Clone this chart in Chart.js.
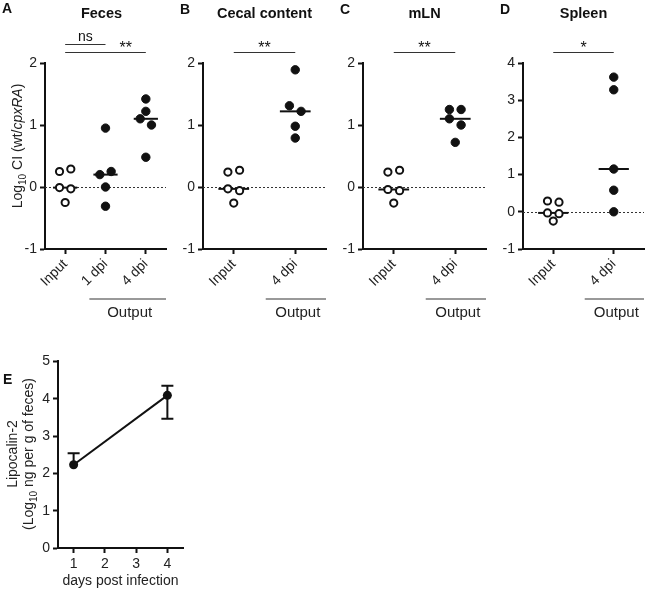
<!DOCTYPE html>
<html>
<head>
<meta charset="utf-8">
<script src="https://cdn.jsdelivr.net/npm/chart.js@4.4.0/dist/chart.umd.min.js"></script>
<style>
  body { margin: 0; background: #fff; width: 650px; height: 590px; position: relative; overflow: hidden; }
  canvas { position: absolute; }
</style>
</head>
<body>
<canvas id="panelA" width="172" height="320" style="left:0;top:0;width:172px;height:320px"></canvas>
<canvas id="panelB" width="160" height="320" style="left:172px;top:0;width:160px;height:320px"></canvas>
<canvas id="panelC" width="160" height="320" style="left:332px;top:0;width:160px;height:320px"></canvas>
<canvas id="panelD" width="158" height="320" style="left:492px;top:0;width:158px;height:320px"></canvas>
<canvas id="panelE" width="200" height="240" style="left:0;top:350px;width:200px;height:240px"></canvas>
<script>
const FONT = "'Liberation Sans', Arial, Helvetica, sans-serif";
Chart.defaults.font.family = FONT;
Chart.defaults.font.size = 14;
Chart.defaults.color = '#222';

// A - feces, log10 CI
const fecesGroups = ['Input', '1 dpi', '4 dpi'];
const fecesInput = [0.25, 0.29, -0.01, -0.03, -0.25];
const feces1dpi = [0.20, 0.25, 0.00, -0.31, 0.95];
const feces4dpi = [1.42, 1.22, 1.10, 1.00, 0.48];

// B - cecal content
const cecalGroups = ['Input', '4 dpi'];
const cecalInput = [0.24, 0.27, -0.03, -0.06, -0.26];
const cecal4dpi = [1.89, 1.31, 1.22, 0.98, 0.79];

// C - mLN
const mlnGroups = ['Input', '4 dpi'];
const mlnInput = [0.24, 0.27, -0.04, -0.06, -0.26];
const mln4dpi = [1.25, 1.25, 1.10, 1.00, 0.72];

// D - spleen
const spleenGroups = ['Input', '4 dpi'];
const spleenInput = [0.29, 0.26, -0.03, -0.05, -0.25];
const spleen4dpi = [3.62, 3.28, 1.15, 0.58, 0.00];

const ciTicks = [-1, 0, 1, 2];
const spleenTicks = [-1, 0, 1, 2, 3, 4];

// E - lipocalin-2
const lcnDays = [1, 4];
const lcnMean = [2.23, 4.09];
const lcnUpper = [2.54, 4.35];
const lcnLower = [2.23, 3.46];
const lcnXTicks = [1, 2, 3, 4];
const lcnYTicks = [0, 1, 2, 3, 4, 5];

function median(vals) {
  const s = vals.slice().sort((a, b) => a - b);
  const m = Math.floor(s.length / 2);
  return s.length % 2 ? s[m] : (s[m - 1] + s[m]) / 2;
}

// spread points with close values side by side (array order = left to right)
function swarm(vals, thresh) {
  const idx = vals.map((v, i) => i).sort((a, b) => vals[b] - vals[a]);
  const groups = [];
  let cur = [idx[0]];
  for (let k = 1; k < idx.length; k++) {
    if (vals[cur[cur.length - 1]] - vals[idx[k]] < thresh) cur.push(idx[k]);
    else { groups.push(cur); cur = [idx[k]]; }
  }
  groups.push(cur);
  const off = new Array(vals.length).fill(0);
  groups.forEach(g => {
    g.sort((a, b) => a - b);
    g.forEach((i, j) => { off[i] = j - (g.length - 1) / 2; });
  });
  return off;
}

function rotatedRich(ctx, segs, cx, cy, size) {
  const fontFor = s => (s.italic ? 'italic ' : '') + (s.sub ? Math.round(size * 0.72) : size) + 'px ' + FONT;
  ctx.save();
  ctx.translate(cx, cy);
  ctx.rotate(-Math.PI / 2);
  let w = 0;
  segs.forEach(s => { ctx.font = fontFor(s); w += ctx.measureText(s.text).width; });
  let x = -w / 2;
  ctx.textAlign = 'left';
  ctx.textBaseline = 'middle';
  segs.forEach(s => {
    ctx.font = fontFor(s);
    ctx.fillText(s.text, x, s.sub ? size * 0.35 : 0);
    x += ctx.measureText(s.text).width;
  });
  ctx.restore();
}

// extra marks per panel, kept outside the Chart.js option resolver
const decorCfg = {};

const decor = {
  id: 'decor',
  beforeDatasetsDraw(chart) {
    const o = decorCfg[chart.canvas.id];
    if (!o.zeroLine) return;
    const { ctx, chartArea: a, scales: { y } } = chart;
    const py = Math.round(y.getPixelForValue(0)) + 0.5;
    ctx.save();
    ctx.strokeStyle = '#333';
    ctx.lineWidth = 1;
    ctx.setLineDash([2, 2]);
    ctx.beginPath();
    ctx.moveTo(a.left, py);
    ctx.lineTo(a.right, py);
    ctx.stroke();
    ctx.restore();
  },
  afterDatasetsDraw(chart) {
    const o = decorCfg[chart.canvas.id];
    if (!o.errors) return;
    const { ctx, scales: { x, y } } = chart;
    const e = o.errors;
    ctx.save();
    ctx.strokeStyle = '#111';
    ctx.lineWidth = 2;
    e.x.forEach((d, i) => {
      const px = x.getPixelForValue(d);
      const pm = y.getPixelForValue(e.mean[i]);
      const pu = y.getPixelForValue(e.upper[i]);
      const pl = y.getPixelForValue(e.lower[i]);
      ctx.beginPath();
      ctx.moveTo(px, pl);
      ctx.lineTo(px, pu);
      if (pm - pu > 1) { ctx.moveTo(px - 6, pu); ctx.lineTo(px + 6, pu); }
      if (pl - pm > 1) { ctx.moveTo(px - 6, pl); ctx.lineTo(px + 6, pl); }
      ctx.stroke();
    });
    ctx.restore();
  },
  afterDraw(chart) {
    const o = decorCfg[chart.canvas.id];
    const { ctx, chartArea: a, scales: { x } } = chart;
    ctx.save();
    ctx.fillStyle = '#111';
    ctx.font = 'bold 14px ' + FONT;
    ctx.textAlign = 'left';
    ctx.textBaseline = 'top';
    ctx.fillText(o.letter, o.letterX, o.letterY);
    if (o.title) {
      ctx.font = 'bold 14.5px ' + FONT;
      ctx.textAlign = 'center';
      ctx.textBaseline = 'alphabetic';
      ctx.fillText(o.title, (a.left + a.right) / 2 + (o.titleShift || 0), 18);
    }
    (o.sigs || []).forEach(s => {
      const x1 = x.getPixelForValue(s.from);
      const x2 = x.getPixelForValue(s.to);
      ctx.strokeStyle = '#333';
      ctx.lineWidth = 1;
      ctx.beginPath();
      ctx.moveTo(x1, s.y + 0.5);
      ctx.lineTo(x2, s.y + 0.5);
      ctx.stroke();
      ctx.font = s.size + 'px ' + FONT;
      ctx.textAlign = 'center';
      ctx.textBaseline = 'alphabetic';
      const tx = typeof s.at === 'number' ? s.at : (s.from + s.to) / 2;
      ctx.fillText(s.text, x.getPixelForValue(tx), s.y + s.dy);
    });
    if (o.output) {
      const x1 = x.getPixelForValue(o.output.from);
      const x2 = x.getPixelForValue(o.output.to);
      ctx.strokeStyle = '#777';
      ctx.lineWidth = 1.5;
      ctx.beginPath();
      ctx.moveTo(x1, 299);
      ctx.lineTo(x2, 299);
      ctx.stroke();
      ctx.font = '15px ' + FONT;
      ctx.textAlign = 'center';
      ctx.textBaseline = 'middle';
      ctx.fillStyle = '#222';
      ctx.fillText('Output', (x1 + x2) / 2 + 2, 313);
    }
    ctx.fillStyle = '#222';
    (o.ylabel || []).forEach(l => rotatedRich(ctx, l.segs, l.x, l.y, 14));
    ctx.restore();
  }
};

function axisStyle() {
  return {
    grid: { display: true, drawOnChartArea: false, drawTicks: true, tickLength: 5, tickWidth: 2, tickColor: '#111' },
    border: { display: true, color: '#111', width: 2 }
  };
}

function dotPanel(id, groups, series, yTicks, layout, decorOpts) {
  decorCfg[id] = decorOpts;
  const datasets = [];
  series.forEach((vals, g) => {
    const off = swarm(vals, layout.thresh);
    datasets.push({
      data: vals.map((v, i) => ({ x: g + 1 + off[i] * layout.step, y: v })),
      pointRadius: g === 0 ? 3.6 : 4.2,
      pointBorderWidth: g === 0 ? 2 : 1,
      pointBackgroundColor: g === 0 ? '#fff' : '#111',
      pointBorderColor: '#111',
      order: 0,
      clip: false
    });
    const m = median(vals);
    datasets.push({
      data: [{ x: g + 1 - layout.half, y: m }, { x: g + 1 + layout.half, y: m }],
      showLine: true,
      borderColor: '#111',
      borderWidth: 2,
      pointRadius: 0,
      order: 1,
      clip: false
    });
  });

  return new Chart(document.getElementById(id), {
    type: 'scatter',
    data: { datasets },
    options: {
      responsive: false,
      animation: false,
      events: [],
      layout: { padding: { top: 63, right: layout.right, left: 0, bottom: 0 } },
      plugins: { legend: { display: false }, tooltip: { enabled: false } },
      scales: {
        x: Object.assign(axisStyle(), {
          type: 'linear',
          min: 0.5,
          max: groups.length + 0.5,
          afterBuildTicks: s => { s.ticks = groups.map((_, i) => ({ value: i + 1 })); },
          afterFit: s => { s.height = 71; },
          ticks: { callback: v => groups[v - 1], minRotation: 45, maxRotation: 45, padding: 2, color: '#222' }
        }),
        y: Object.assign(axisStyle(), {
          min: yTicks[0],
          max: yTicks[yTicks.length - 1],
          afterBuildTicks: s => { s.ticks = yTicks.map(v => ({ value: v })); },
          afterFit: s => { s.width = layout.left; },
          ticks: { padding: 3, color: '#222' }
        })
      }
    },
    plugins: [decor]
  });
}

dotPanel('panelA', fecesGroups, [fecesInput, feces1dpi, feces4dpi], ciTicks,
  { thresh: 0.105, step: 0.28, half: 0.3, left: 45, right: 4 },
  {
    letter: 'A', letterX: 2, letterY: 2, title: 'Feces', titleShift: -4, zeroLine: true,
    sigs: [
      { from: 1, to: 2, y: 44, text: 'ns', size: 14, dy: -3 },
      { from: 1, to: 3, at: 2.5, y: 52, text: '**', size: 16, dy: 1 }
    ],
    output: { from: 1.6, to: 3.5 },
    ylabel: [{ x: 18, y: 146, segs: [
      { text: 'Log' }, { text: '10', sub: true }, { text: ' CI (wt/' }, { text: 'cpxRA', italic: true }, { text: ')' }
    ] }]
  });

dotPanel('panelB', cecalGroups, [cecalInput, cecal4dpi], ciTicks,
  { thresh: 0.105, step: 0.19, half: 0.25, left: 31, right: 5 },
  {
    letter: 'B', letterX: 8, letterY: 3, title: 'Cecal content', zeroLine: true,
    sigs: [{ from: 1, to: 2, y: 52, text: '**', size: 16, dy: 1 }],
    output: { from: 1.52, to: 2.5 }
  });

dotPanel('panelC', mlnGroups, [mlnInput, mln4dpi], ciTicks,
  { thresh: 0.105, step: 0.19, half: 0.25, left: 31, right: 5 },
  {
    letter: 'C', letterX: 8, letterY: 3, title: 'mLN', zeroLine: true,
    sigs: [{ from: 1, to: 2, y: 52, text: '**', size: 16, dy: 1 }],
    output: { from: 1.52, to: 2.5 }
  });

dotPanel('panelD', spleenGroups, [spleenInput, spleen4dpi], spleenTicks,
  { thresh: 0.175, step: 0.19, half: 0.25, left: 31, right: 3 },
  {
    letter: 'D', letterX: 8, letterY: 3, title: 'Spleen', zeroLine: true,
    sigs: [{ from: 1, to: 2, y: 52, text: '*', size: 16, dy: 1 }],
    output: { from: 1.52, to: 2.5 }
  });

decorCfg.panelE = {
  letter: 'E', letterX: 3, letterY: 23,
  errors: { x: lcnDays, mean: lcnMean, upper: lcnUpper, lower: lcnLower },
  ylabel: [
    { x: 13, y: 104, segs: [{ text: 'Lipocalin-2' }] },
    { x: 29, y: 104, segs: [{ text: '(Log' }, { text: '10', sub: true }, { text: ' ng per g of feces)' }] }
  ]
};

new Chart(document.getElementById('panelE'), {
  type: 'line',
  data: {
    datasets: [{
      data: lcnDays.map((d, i) => ({ x: d, y: lcnMean[i] })),
      borderColor: '#111',
      borderWidth: 2,
      pointRadius: 4.5,
      pointBorderWidth: 0,
      pointBackgroundColor: '#111',
      clip: false
    }]
  },
  options: {
    responsive: false,
    animation: false,
    events: [],
    layout: { padding: { top: 10, right: 17, left: 0, bottom: 0 } },
    plugins: { legend: { display: false }, tooltip: { enabled: false } },
    scales: {
      x: Object.assign(axisStyle(), {
        type: 'linear',
        min: 0.5,
        max: 4.5,
        afterBuildTicks: s => { s.ticks = lcnXTicks.map(v => ({ value: v })); },
        afterFit: s => { s.height = 42; },
        ticks: { maxRotation: 0, padding: 3, color: '#222' },
        title: { display: true, text: 'days post infection', color: '#222', padding: { top: 0, bottom: 0 } }
      }),
      y: Object.assign(axisStyle(), {
        min: lcnYTicks[0],
        max: lcnYTicks[lcnYTicks.length - 1],
        afterBuildTicks: s => { s.ticks = lcnYTicks.map(v => ({ value: v })); },
        afterFit: s => { s.width = 58; },
        ticks: { padding: 3, color: '#222' }
      })
    }
  },
  plugins: [decor]
});
</script>
</body>
</html>
